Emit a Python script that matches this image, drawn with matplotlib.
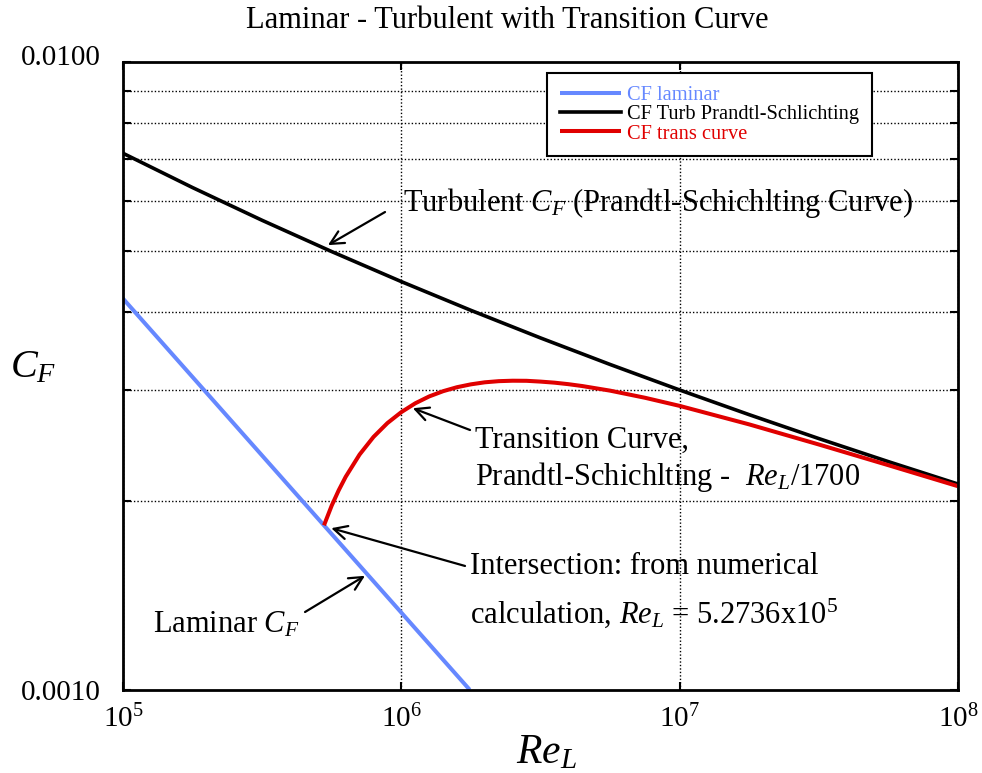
import matplotlib
matplotlib.use("Agg")
import matplotlib.pyplot as plt
from matplotlib.ticker import FixedLocator, NullLocator, FixedFormatter, NullFormatter
import matplotlib.transforms as mtransforms

plt.rcParams['font.family'] = ['Liberation Serif', 'DejaVu Serif']
plt.rcParams['mathtext.fontset'] = 'custom'
plt.rcParams['mathtext.rm'] = 'Liberation Serif'
plt.rcParams['mathtext.it'] = 'Liberation Serif:italic'
plt.rcParams['mathtext.bf'] = 'Liberation Serif:bold'

# ---- data ----
re_laminar = [1e5, 2e5, 5e5, 1e6, 1.76e6]
cf_laminar = [0.004200, 0.002970, 0.001878, 0.001328, 0.001001]

re_turb = [1e5, 1.778e5, 3.162e5, 5.623e5, 1e6, 1.778e6, 3.162e6, 5.623e6,
           1e7, 1.778e7, 3.162e7, 5.623e7, 1e8]
cf_turb = [0.007156, 0.006310, 0.005596, 0.004990, 0.004470, 0.004023, 0.003636,
           0.003299, 0.003004, 0.002744, 0.002514, 0.002310, 0.002128]

re_trans = [5.2736e5, 5.623e5, 5.957e5, 6.310e5, 7.079e5, 7.943e5, 8.913e5, 1e6,
            1.122e6, 1.259e6, 1.413e6, 1.585e6, 1.778e6, 1.995e6, 2.239e6, 2.512e6,
            2.818e6, 3.162e6, 3.548e6, 3.981e6, 4.467e6, 5.623e6, 7.499e6, 1e7,
            1.778e7, 3.162e7, 5.623e7, 1e8]
cf_trans = [0.001829, 0.001967, 0.002080, 0.002185, 0.002371, 0.002529, 0.002661, 0.002770,
            0.002861, 0.002934, 0.002991, 0.003035, 0.003067, 0.003090, 0.003103, 0.003108,
            0.003107, 0.003098, 0.003086, 0.003069, 0.003048, 0.002997, 0.002920, 0.002834,
            0.002648, 0.002460, 0.002280, 0.002111]

x_ticks = [1e5, 1e6, 1e7, 1e8]
y_ticks = [0.001, 0.01]
y_tick_labels = ['0.0010', '0.0100']
y_minor = [0.002, 0.003, 0.004, 0.005, 0.006, 0.007, 0.008, 0.009]

BLUE = '#6688ff'
RED = '#e00000'

fig = plt.figure(figsize=(9.82, 7.73), dpi=100)
ax = fig.add_axes([123/982, 1-690/773, 835/982, 628/773])

ax.plot(re_laminar, cf_laminar, color=BLUE, lw=2.9, label='CF laminar', solid_capstyle='butt')
ax.plot(re_turb, cf_turb, color='black', lw=2.6, label='CF Turb Prandtl-Schlichting')
ax.plot(re_trans, cf_trans, color=RED, lw=2.9, label='CF trans curve', solid_capstyle='butt')

ax.set_xscale('log')
ax.set_yscale('log')
ax.set_xlim(1e5, 1e8)
ax.set_ylim(0.001, 0.01)

ax.xaxis.set_major_locator(FixedLocator(x_ticks))
ax.xaxis.set_minor_locator(NullLocator())
ax.yaxis.set_major_locator(FixedLocator(y_ticks))
ax.yaxis.set_major_formatter(FixedFormatter(y_tick_labels))
ax.yaxis.set_minor_locator(FixedLocator(y_minor))
ax.yaxis.set_minor_formatter(NullFormatter())

ax.tick_params(axis='both', which='both', direction='in', top=True, right=True,
               width=1.5, length=6, colors='black')
ax.tick_params(axis='x', labelsize=21, pad=11)
ax.tick_params(axis='y', labelsize=21, pad=16)

ax.grid(True, which='major', axis='x', linestyle=(0, (1, 1.5)), color='black', lw=1)
ax.grid(True, which='minor', axis='y', linestyle=(0, (1, 1.5)), color='black', lw=1)
for s in ax.spines.values():
    s.set_linewidth(2)

leg = ax.legend(loc='upper left', bbox_to_anchor=(0.5078, 0.9825), fontsize=14.7,
                frameon=True, fancybox=False, framealpha=1, edgecolor='black',
                handlelength=3.0, handletextpad=0.3, labelspacing=0.0,
                borderpad=0.62, borderaxespad=0)
leg.get_frame().set_linewidth(1.5)
for txt, c in zip(leg.get_texts(), [BLUE, 'black', RED]):
    txt.set_color(c)

fig.text(507/982, 1-20/773, 'Laminar - Turbulent with Transition Curve',
         ha='center', va='center', fontsize=22)
fig.text(546/982, 1-763/773, r'$Re_L$', ha='center', va='baseline', fontsize=30)
fig.text(33/982, 1-377/773, r'$C_F$', ha='center', va='baseline', fontsize=29)

fs = 22
arrow = dict(arrowstyle='->', color='black', lw=1.6, mutation_scale=24, shrinkA=0, shrinkB=0)

ax.text(0.3353, 0.7755, r'Turbulent $C_F$ (Prandtl-Schichlting Curve)', transform=ax.transAxes,
        fontsize=fs, va='center', ha='left')
ax.annotate('', xy=(5.45e5, 0.00511), xycoords='data', xytext=(0.3138, 0.7611),
            textcoords='axes fraction', arrowprops=arrow)

ax.text(0.4216, 0.3981, 'Transition Curve,', transform=ax.transAxes, fontsize=fs,
        va='center', ha='left')
ax.text(0.4216, 0.3392, r'Prandtl-Schichlting -  $Re_L$/1700', transform=ax.transAxes,
        fontsize=fs, va='center', ha='left')
ax.annotate('', xy=(1.10e6, 0.00281), xycoords='data', xytext=(0.4156, 0.4140),
            textcoords='axes fraction', arrowprops=arrow)

ax.text(0.4156, 0.1959, 'Intersection: from numerical', transform=ax.transAxes,
        fontsize=fs, va='center', ha='left')
ax.text(0.4156, 0.1226, r'calculation, $Re_L$ = 5.2736x10$^5$', transform=ax.transAxes,
        fontsize=fs, va='center', ha='left')
ax.annotate('', xy=(5.6e5, 0.00181), xycoords='data', xytext=(0.4096, 0.1975),
            textcoords='axes fraction', arrowprops=arrow)

ax.text(0.0359, 0.1035, r'Laminar $C_F$', transform=ax.transAxes, fontsize=fs,
        va='center', ha='left')
ax.annotate('', xy=(7.4e5, 0.00152), xycoords='data', xytext=(0.2180, 0.1242),
            textcoords='axes fraction', arrowprops=arrow)

# nudge top y tick label upward like in the reference
fig.canvas.draw()
for tick in ax.yaxis.get_major_ticks():
    if abs(tick.get_loc() - 0.01) < 1e-9:
        lbl = tick.label1
        lbl.set_transform(lbl.get_transform() +
                          mtransforms.ScaledTranslation(0, 7/100, fig.dpi_scale_trans))

fig.savefig('out.png', dpi=100)
